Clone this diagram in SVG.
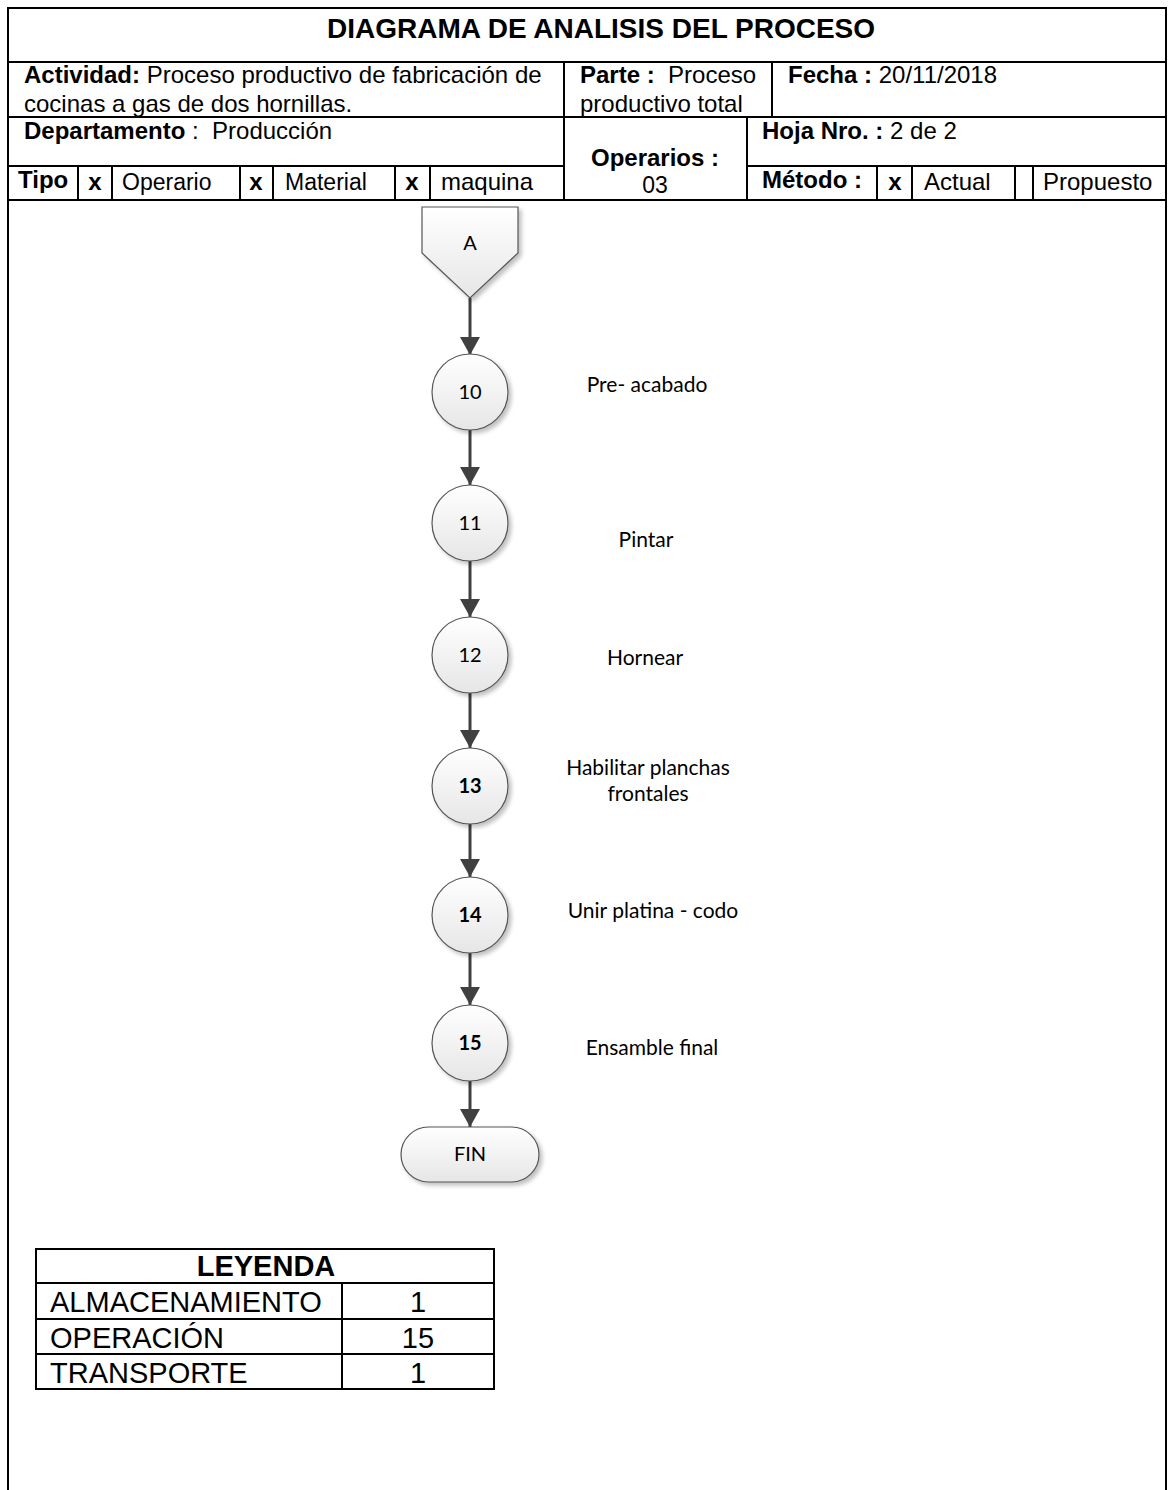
<svg xmlns="http://www.w3.org/2000/svg" width="1169" height="1490" viewBox="0 0 1169 1490">
  <style>
    .frame { fill: none; stroke: #000; stroke-width: 2; }
    .grid { stroke: #000; stroke-width: 2; fill: none; }
    .hdr { font-family: "Liberation Sans", Arial, sans-serif; font-size: 24px; fill: #000; }
    .sm { font-size: 23px; }
    .b { font-weight: bold; }
    .title { font-family: "Liberation Sans", Arial, sans-serif; font-size: 28px; font-weight: bold; fill: #000; }
    .shape { fill: url(#shade); stroke: #555; stroke-width: 1.2; filter: url(#drop); }
    .num { font-family: Lato, "Open Sans", sans-serif; font-size: 20px; fill: #000; text-anchor: middle; }
    .lbl { font-family: Lato, "Open Sans", sans-serif; font-size: 21px; fill: #000; text-anchor: middle; }
    .flow { stroke: #404040; stroke-width: 3; fill: none; marker-end: url(#head); }
    .leg { font-family: "Liberation Sans", Arial, sans-serif; font-size: 29px; fill: #000; }
  </style>
  <defs>
    <linearGradient id="shade" x1="0" y1="0" x2="0" y2="1">
      <stop offset="0" stop-color="#ffffff"/>
      <stop offset="1" stop-color="#e6e6e6"/>
    </linearGradient>
    <filter id="drop" x="-20%" y="-20%" width="150%" height="150%">
      <feGaussianBlur in="SourceAlpha" stdDeviation="2"/>
      <feOffset dx="3" dy="3" result="off"/>
      <feComponentTransfer><feFuncA type="linear" slope="0.25"/></feComponentTransfer>
      <feMerge><feMergeNode/><feMergeNode in="SourceGraphic"/></feMerge>
    </filter>
    <marker id="head" viewBox="0 0 18 20" refX="18" refY="10" markerWidth="18" markerHeight="20" markerUnits="userSpaceOnUse" orient="auto">
      <path d="M0,0 L18,10 L0,20 Z" fill="#404040"/>
    </marker>
  </defs>

  <rect width="1169" height="1490" fill="#fff"/>

  <!-- header form -->
  <g id="header">
    <path class="frame" d="M8,1490 V8 H1166 V1490"/>
    <line class="grid" x1="8" y1="62" x2="1166" y2="62"/>
    <line class="grid" x1="8" y1="117" x2="1166" y2="117"/>
    <line class="grid" x1="8" y1="166" x2="564" y2="166"/>
    <line class="grid" x1="747" y1="166" x2="1166" y2="166"/>
    <line class="grid" x1="8" y1="200" x2="1166" y2="200"/>
    <line class="grid" x1="564" y1="62" x2="564" y2="200"/>
    <line class="grid" x1="772" y1="62" x2="772" y2="117"/>
    <line class="grid" x1="747" y1="117" x2="747" y2="200"/>
    <!-- Tipo row cells -->
    <line class="grid" x1="78" y1="166" x2="78" y2="200"/>
    <line class="grid" x1="112" y1="166" x2="112" y2="200"/>
    <line class="grid" x1="240" y1="166" x2="240" y2="200"/>
    <line class="grid" x1="273" y1="166" x2="273" y2="200"/>
    <line class="grid" x1="395" y1="166" x2="395" y2="200"/>
    <line class="grid" x1="430" y1="166" x2="430" y2="200"/>
    <!-- Método row cells -->
    <line class="grid" x1="877" y1="166" x2="877" y2="200"/>
    <line class="grid" x1="912" y1="166" x2="912" y2="200"/>
    <line class="grid" x1="1015" y1="166" x2="1015" y2="200"/>
    <line class="grid" x1="1033" y1="166" x2="1033" y2="200"/>

    <text class="title" x="601" y="38" text-anchor="middle">DIAGRAMA DE ANALISIS DEL PROCESO</text>
    <text class="hdr" x="24" y="83"><tspan class="b">Actividad:</tspan> Proceso productivo de fabricación de</text>
    <text class="hdr" x="24" y="112">cocinas a gas de dos hornillas.</text>
    <text class="hdr" x="580" y="83"><tspan class="b">Parte :</tspan>&#160; Proceso</text>
    <text class="hdr" x="580" y="112">productivo total</text>
    <text class="hdr" x="788" y="83"><tspan class="b">Fecha :</tspan> 20/11/2018</text>
    <text class="hdr" x="24" y="139"><tspan class="b">Departamento</tspan> :&#160; Producción</text>
    <text class="hdr b" x="655" y="166" text-anchor="middle">Operarios :</text>
    <text class="hdr sm" x="655" y="193" text-anchor="middle">03</text>
    <text class="hdr" x="762" y="139"><tspan class="b">Hoja Nro. :</tspan> 2 de 2</text>
    <text class="hdr" x="762" y="188"><tspan class="b">Método :</tspan></text>
    <text class="hdr b" x="895" y="190" text-anchor="middle">x</text>
    <text class="hdr" x="924" y="190">Actual</text>
    <text class="hdr" x="1043" y="190">Propuesto</text>
    <text class="hdr b" x="18" y="188">Tipo</text>
    <text class="hdr b" x="95" y="190" text-anchor="middle">x</text>
    <text class="hdr sm" x="122" y="190">Operario</text>
    <text class="hdr b" x="256" y="190" text-anchor="middle">x</text>
    <text class="hdr sm" x="285" y="190">Material</text>
    <text class="hdr b" x="412" y="190" text-anchor="middle">x</text>
    <text class="hdr" x="441" y="190">maquina</text>
  </g>

  <!-- connectors -->
  <g id="connectors">
    <line class="flow" x1="470" y1="298" x2="470" y2="355"/>
    <line class="flow" x1="470" y1="430" x2="470" y2="485"/>
    <line class="flow" x1="470" y1="561" x2="470" y2="617"/>
    <line class="flow" x1="470" y1="693" x2="470" y2="748"/>
    <line class="flow" x1="470" y1="824" x2="470" y2="877"/>
    <line class="flow" x1="470" y1="953" x2="470" y2="1005"/>
    <line class="flow" x1="470" y1="1081" x2="470" y2="1127"/>
  </g>

  <!-- off-page connector A -->
  <g id="node-A">
    <path class="shape" d="M422,207 H518 V253 L470,298 L422,253 Z"/>
    <text class="num" x="470" y="250">A</text>
  </g>

  <g id="node-10">
    <circle class="shape" cx="470" cy="392" r="38"/>
    <text class="num" x="470" y="399">10</text>
    <text class="lbl" x="647" y="392">Pre- acabado</text>
  </g>
  <g id="node-11">
    <circle class="shape" cx="470" cy="523" r="38"/>
    <text class="num" x="470" y="530">11</text>
    <text class="lbl" x="646" y="547">Pintar</text>
  </g>
  <g id="node-12">
    <circle class="shape" cx="470" cy="655" r="38"/>
    <text class="num" x="470" y="662">12</text>
    <text class="lbl" x="645" y="665">Hornear</text>
  </g>
  <g id="node-13">
    <circle class="shape" cx="470" cy="786" r="38"/>
    <text class="num b" x="470" y="793">13</text>
    <text class="lbl" x="648" y="775">Habilitar planchas</text>
    <text class="lbl" x="648" y="801">frontales</text>
  </g>
  <g id="node-14">
    <circle class="shape" cx="470" cy="915" r="38"/>
    <text class="num b" x="470" y="922">14</text>
    <text class="lbl" x="653" y="918">Unir platina - codo</text>
  </g>
  <g id="node-15">
    <circle class="shape" cx="470" cy="1043" r="38"/>
    <text class="num b" x="470" y="1050">15</text>
    <text class="lbl" x="652" y="1055">Ensamble final</text>
  </g>
  <g id="node-FIN">
    <rect class="shape" x="401" y="1127" width="138" height="55" rx="27.5" ry="27.5"/>
    <text class="num" x="470" y="1161">FIN</text>
  </g>

  <!-- legend table -->
  <g id="legend">
    <rect class="grid" x="36" y="1249" width="458" height="140"/>
    <line class="grid" x1="36" y1="1283" x2="494" y2="1283"/>
    <line class="grid" x1="36" y1="1319" x2="494" y2="1319"/>
    <line class="grid" x1="36" y1="1354" x2="494" y2="1354"/>
    <line class="grid" x1="342" y1="1283" x2="342" y2="1389"/>
    <text class="leg b" x="266" y="1276" text-anchor="middle">LEYENDA</text>
    <text class="leg" x="50" y="1312">ALMACENAMIENTO</text>
    <text class="leg" x="418" y="1312" text-anchor="middle">1</text>
    <text class="leg" x="50" y="1348">OPERACIÓN</text>
    <text class="leg" x="418" y="1348" text-anchor="middle">15</text>
    <text class="leg" x="50" y="1383">TRANSPORTE</text>
    <text class="leg" x="418" y="1383" text-anchor="middle">1</text>
  </g>
</svg>
